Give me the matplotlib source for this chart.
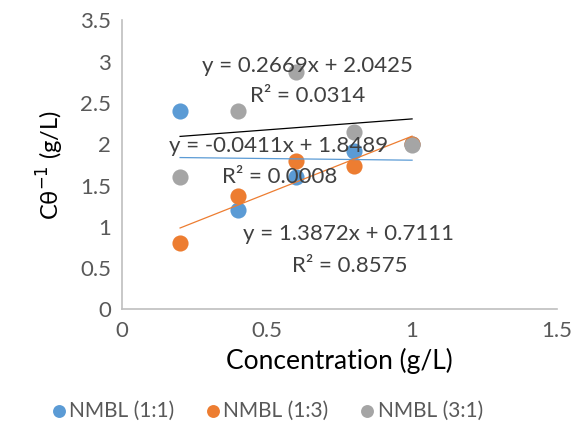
import numpy as np
import matplotlib
matplotlib.use("Agg")
import matplotlib.pyplot as plt

plt.rcParams['font.family'] = ['Lato', 'DejaVu Sans']

# data
conc = [0.2, 0.4, 0.6, 0.8, 1.0]
nmbl_11 = [2.4, 1.2, 1.6, 1.92, 2.0]
nmbl_13 = [0.8, 1.37, 1.8, 1.74, 2.005]
nmbl_31 = [1.6, 2.4, 2.87, 2.15, 1.99]
names = ['NMBL (1:1)', 'NMBL (1:3)', 'NMBL (3:1)']
equations = ['y = -0.0411x + 1.8489', 'y = 1.3872x + 0.7111', 'y = 0.2669x + 2.0425']
r2_texts = ['R² = 0.0008', 'R² = 0.8575', 'R² = 0.0314']
colors = ['#5B9BD5', '#ED7D31', '#A5A5A5']
trend_colors = ['#5B9BD5', '#ED7D31', 'black']
# where each trendline label sits (x, y of equation; x, y of R2)
label_pos = [(0.54, 1.98, 0.545, 1.61),
             (0.78, 0.91, 0.786, 0.53),
             (0.64, 2.95, 0.64, 2.58)]

fig = plt.figure(figsize=(5.87, 4.32), dpi=100)
ax = fig.add_axes([0.208, 0.2836, 0.741, 0.669])

series = [nmbl_11, nmbl_13, nmbl_31]
x = np.array(conc)
for ys, name, c in zip(series, names, colors):
    ax.scatter(conc, ys, s=135, color=c, label=name, zorder=2, linewidths=0)

for ys, tc, pos, eq, r2 in zip(series, trend_colors, label_pos, equations, r2_texts):
    y = np.array(ys)
    m, b = np.polyfit(x, y, 1)
    ax.plot([x.min(), x.max()], [m * x.min() + b, m * x.max() + b],
            color=tc, lw=0.9, zorder=3)
    ax.text(pos[0], pos[1], eq, ha='center', va='center',
            fontsize=16, color='#404040', zorder=4)
    ax.text(pos[2], pos[3], r2, ha='center', va='center',
            fontsize=16, color='#404040', zorder=4)

ax.set_xlim(0, 1.5)
ax.set_ylim(0, 3.5)
ax.set_xticks([0, 0.5, 1, 1.5])
ax.set_xticklabels(['0', '0.5', '1', '1.5'])
ax.set_yticks(np.arange(0, 3.51, 0.5))
ax.set_yticklabels(['0', '0.5', '1', '1.5', '2', '2.5', '3', '3.5'])
ax.tick_params(length=0, labelsize=16, labelcolor='#595959', pad=8)
for s in ['top', 'right']:
    ax.spines[s].set_visible(False)
for s in ['left', 'bottom']:
    ax.spines[s].set_color('#BFBFBF')
    ax.spines[s].set_linewidth(1.2)

ax.set_xlabel('Concentration (g/L)', fontsize=19, labelpad=5)
ax.set_ylabel('Cθ$^{-1}$ (g/L)', fontsize=17, labelpad=10)

fig.legend(loc='center', bbox_to_anchor=(0.455, 0.05), ncol=3, frameon=False,
           fontsize=15, handlelength=0.7, handletextpad=0.15, columnspacing=1.5,
           markerscale=0.8, labelcolor='#595959')

fig.savefig('out.png', dpi=100)
